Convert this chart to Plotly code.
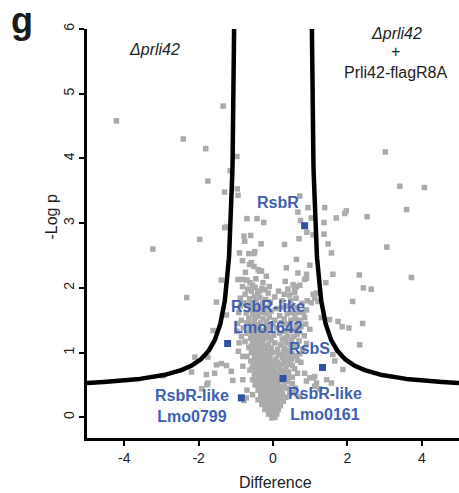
import numpy as np
import plotly.graph_objects as go

# ---- protein groups: (difference, -log p) ----
outer_left = [
    (-4.21, 4.58), (-2.41, 4.30), (-3.23, 2.60), (-2.32, 1.85), (-1.81, 4.15),
    (-1.34, 4.81), (-1.75, 3.65), (-1.30, 3.48), (-1.15, 3.81), (-0.97, 4.03),
    (-0.96, 3.53), (-0.94, 3.43), (-1.30, 2.93), (-1.26, 2.94), (-1.97, 2.75),
    (-1.39, 2.12), (-1.61, 1.34), (-1.25, 1.58), (-2.10, 0.93), (-1.75, 0.93),
    (-1.52, 0.81), (-1.39, 0.83), (-1.25, 0.80), (-2.19, 0.70), (-1.79, 0.66),
    (-1.57, 0.68), (-1.75, 0.53), (-1.78, 0.50), (-1.92, 0.44), (-2.96, 0.64),
    (-1.12, 0.71), (-1.08, 0.57), (-1.52, 1.78), (-0.94, 2.13), (-0.91, 1.15),
    (-0.81, 0.94), (-0.81, 0.79), (-0.81, 0.58),
]
outer_right = [
    (3.02, 4.10), (3.41, 3.57), (4.07, 3.55), (1.97, 3.19), (1.93, 3.15),
    (2.53, 3.10), (3.59, 3.21), (3.06, 2.63), (2.32, 2.20), (3.72, 2.16),
    (2.43, 2.00), (2.64, 1.98), (2.14, 1.79), (2.41, 1.45), (1.86, 1.40),
    (2.04, 1.38), (2.33, 1.12), (1.61, 2.21), (1.42, 2.08), (1.57, 2.54),
    (1.48, 2.68), (1.70, 3.08), (1.39, 3.24), (1.37, 3.01), (1.37, 2.83),
    (1.75, 1.48), (1.52, 1.51), (1.30, 1.54), (1.61, 0.97), (1.66, 0.87),
    (1.44, 0.58), (1.57, 0.53), (1.12, 0.63), (1.17, 0.53), (1.88, 0.74),
    (0.99, 0.61), (1.08, 0.61), (1.12, 0.48), (1.25, 0.44), (0.72, 0.32),
]
upper_mid = [
    (0.72, 3.42), (0.67, 3.17), (0.94, 3.24), (0.74, 3.04), (1.03, 3.08),
    (0.91, 2.86), (1.08, 2.82), (0.70, 2.76), (0.31, 2.67), (0.63, 2.44),
    (0.36, 2.31), (0.99, 2.35), (0.67, 2.23), (0.90, 2.21), (0.90, 2.15),
    (0.85, 2.13), (0.54, 2.05), (0.63, 2.02), (0.72, 2.04), (0.58, 1.97),
    (0.58, 1.93), (0.45, 1.89), (1.08, 1.90), (1.17, 1.92), (1.12, 1.84),
    (1.03, 1.77), (1.21, 1.79), (0.99, 1.36), (0.85, 1.54), (0.90, 1.66),
    (-0.70, 3.07), (-0.43, 3.07), (-0.25, 3.01), (-0.78, 2.80), (-0.60, 2.81),
    (-0.76, 2.72), (-0.32, 2.68), (-0.90, 2.54), (-0.65, 2.53), (-0.51, 2.53),
    (-0.49, 2.56), (-0.82, 2.42), (-0.58, 2.39), (-0.51, 2.33), (-0.40, 2.28),
    (-0.36, 2.26), (-0.63, 2.36), (-0.31, 2.26), (-0.18, 2.18), (-0.81, 2.13),
    (-0.22, 1.97), (-0.13, 1.92),
]
core = [
    (-0.62, 2.08), (-0.55, 2.04), (-0.48, 2.01), (-0.68, 1.98), (-0.58, 1.95),
    (-0.41, 1.93), (-0.30, 1.99), (-0.75, 1.90), (-0.50, 1.87), (-0.35, 1.85),
    (-0.63, 1.83), (-0.20, 1.82), (-0.45, 1.79), (-0.78, 1.77), (-0.28, 1.76),
    (0.05, 1.86), (0.15, 1.95), (0.24, 1.80), (0.33, 2.10), (0.40, 1.98),
    (-0.88, 1.72), (-0.66, 1.74), (-0.52, 1.71), (-0.38, 1.72), (-0.15, 1.70),
    (-0.60, 1.66), (-0.44, 1.64), (-0.30, 1.66), (-0.72, 1.61), (-0.55, 1.59),
    (-0.20, 1.61), (-0.05, 1.64), (0.10, 1.68), (0.28, 1.70), (0.52, 1.72),
    (0.70, 1.62), (-0.40, 1.56), (-0.65, 1.53), (-0.27, 1.52), (-0.10, 1.55),
    (0.18, 1.57), (0.38, 1.60), (0.60, 1.52), (-0.85, 1.50), (-0.50, 1.50),
    (0.05, 1.50),
    (-0.95, 1.45), (-0.70, 1.46), (-0.58, 1.44), (-0.45, 1.43), (-0.33, 1.46),
    (-0.18, 1.42), (0.00, 1.44), (0.22, 1.46), (0.45, 1.42), (0.75, 1.40),
    (-0.80, 1.38), (-0.62, 1.36), (-0.50, 1.35), (-0.38, 1.37), (-0.25, 1.34),
    (-0.12, 1.36), (0.10, 1.38), (0.32, 1.33), (0.55, 1.35), (-0.70, 1.30),
    (-0.55, 1.28), (-0.42, 1.29), (-0.30, 1.27), (-0.15, 1.29), (0.02, 1.27),
    (0.18, 1.30), (0.40, 1.25), (0.65, 1.28), (-0.85, 1.25), (-0.60, 1.22),
    (-0.47, 1.21), (-0.35, 1.20), (-0.22, 1.22), (-0.05, 1.20), (0.25, 1.21),
    (0.50, 1.18),
    (-0.75, 1.17), (-0.55, 1.15), (-0.42, 1.14), (-0.28, 1.16), (-0.12, 1.13),
    (0.05, 1.15), (0.20, 1.12), (0.35, 1.15), (0.60, 1.10), (0.80, 1.05),
    (-0.65, 1.08), (-0.50, 1.07), (-0.35, 1.08), (-0.20, 1.06), (-0.05, 1.07),
    (0.12, 1.05), (0.30, 1.06), (0.45, 1.03), (-0.58, 1.00), (-0.44, 0.99),
    (-0.30, 1.01), (-0.16, 0.98), (0.00, 1.00), (0.15, 0.97), (0.38, 0.98),
    (0.62, 0.95), (-0.70, 0.94), (-0.50, 0.92), (-0.37, 0.93), (-0.24, 0.91),
    (-0.08, 0.93), (0.08, 0.90), (0.25, 0.92), (0.50, 0.90),
    (-0.60, 0.87), (-0.45, 0.86), (-0.32, 0.87), (-0.18, 0.85), (-0.03, 0.86),
    (0.12, 0.84), (0.30, 0.86), (0.45, 0.82), (0.75, 0.85), (-0.52, 0.80),
    (-0.40, 0.79), (-0.27, 0.80), (-0.12, 0.78), (0.03, 0.79), (0.18, 0.77),
    (0.35, 0.78), (0.58, 0.75), (-0.62, 0.73), (-0.46, 0.72), (-0.33, 0.73),
    (-0.20, 0.71), (-0.06, 0.72), (0.08, 0.70), (0.22, 0.72), (0.42, 0.70),
    (-0.50, 0.66), (-0.38, 0.65), (-0.25, 0.66), (-0.12, 0.64), (0.02, 0.65),
    (0.15, 0.63), (0.32, 0.64), (0.52, 0.62), (0.85, 0.68),
    (-0.55, 0.58), (-0.42, 0.57), (-0.30, 0.58), (-0.18, 0.56), (-0.05, 0.57),
    (0.08, 0.55), (0.20, 0.57), (0.40, 0.55), (-0.48, 0.50), (-0.35, 0.49),
    (-0.22, 0.50), (-0.10, 0.48), (0.03, 0.50), (0.15, 0.48), (0.30, 0.47),
    (0.60, 0.45), (-0.70, 0.42), (-0.40, 0.42), (-0.28, 0.41), (-0.15, 0.43),
    (-0.02, 0.41), (0.10, 0.42), (0.22, 0.40), (0.45, 0.38), (-0.55, 0.35),
    (-0.33, 0.34), (-0.20, 0.35), (-0.08, 0.33), (0.05, 0.34), (0.17, 0.33),
    (0.35, 0.31), (-0.72, 0.30), (-0.78, 0.26),
    (-0.40, 0.27), (-0.26, 0.27), (-0.13, 0.26), (0.00, 0.27), (0.12, 0.26),
    (0.28, 0.25), (-0.30, 0.20), (-0.18, 0.19), (-0.05, 0.20), (0.07, 0.19),
    (0.20, 0.18), (-0.22, 0.12), (-0.10, 0.12), (0.02, 0.11), (0.14, 0.12),
    (-0.12, 0.05), (0.00, 0.04), (0.10, 0.05), (-0.03, -0.01), (0.05, 0.00),
]
core_dense = [
    (-0.82, 2.02), (-0.88, 1.84), (-0.92, 1.62), (-0.97, 1.33), (-0.93, 1.02),
    (-0.74, 2.24), (-0.70, 2.12), (-0.46, 2.14), (-0.27, 2.08), (-0.10, 2.02),
    (-0.36, 1.95), (-0.56, 1.77), (-0.07, 1.78), (-0.34, 1.62), (-0.47, 1.55),
    (-0.17, 1.48), (-0.40, 1.40), (-0.08, 1.40), (-0.28, 1.31), (-0.50, 1.24),
    (-0.10, 1.24), (-0.37, 1.12), (-0.23, 1.10), (-0.58, 1.10), (-0.40, 1.03),
    (-0.12, 1.02), (-0.27, 0.95), (-0.44, 0.90), (-0.14, 0.90), (-0.38, 0.83),
    (-0.22, 0.82), (-0.08, 0.81), (-0.56, 0.77), (-0.30, 0.76), (-0.16, 0.75),
    (0.00, 0.75), (-0.42, 0.69), (-0.28, 0.69), (-0.16, 0.68), (-0.02, 0.68),
    (0.12, 0.67), (-0.35, 0.62), (-0.20, 0.61), (-0.08, 0.61), (0.06, 0.60),
    (-0.47, 0.54), (-0.26, 0.53), (-0.13, 0.52), (0.00, 0.53), (0.12, 0.52),
    (-0.35, 0.45), (-0.20, 0.46), (-0.07, 0.45), (0.06, 0.46), (0.19, 0.44),
    (-0.27, 0.38), (-0.13, 0.39), (0.00, 0.37), (0.12, 0.38), (0.26, 0.36),
    (-0.33, 0.30), (-0.19, 0.31), (-0.06, 0.30), (0.06, 0.29), (0.20, 0.29),
    (-0.25, 0.23), (-0.11, 0.23), (0.01, 0.23), (0.13, 0.22), (-0.16, 0.16),
    (-0.04, 0.16), (0.08, 0.15), (-0.07, 0.08), (0.05, 0.09),
    (0.30, 1.90), (0.48, 1.80), (0.62, 1.84), (0.78, 1.76), (0.92, 1.80),
    (0.38, 1.72), (0.66, 1.70), (0.82, 1.62), (0.46, 1.62), (0.58, 1.60),
    (0.30, 1.52), (0.48, 1.50), (0.72, 1.50), (0.88, 1.44), (0.34, 1.44),
    (0.62, 1.42), (0.42, 1.34), (0.70, 1.32), (0.84, 1.26), (0.56, 1.25),
    (0.35, 1.23), (0.70, 1.18), (0.46, 1.12), (0.90, 1.14), (0.28, 1.00),
    (0.52, 0.98), (0.72, 0.98), (0.40, 0.90), (0.66, 0.88), (0.22, 0.82),
    (0.52, 0.80), (0.28, 0.70), (0.66, 0.68), (0.40, 0.62), (0.30, 0.54),
    (0.52, 0.52), (0.38, 0.45), (0.90, 0.56), (0.56, 0.38),
]

# ---- highlighted proteins ----
hit_names = ["RsbR", "RsbR-like<br>Lmo1642", "RsbS", "RsbR-like<br>Lmo0161", "RsbR-like<br>Lmo0799"]
hit_diff = [0.85, -1.22, 1.33, 0.27, -0.85]
hit_logp = [2.96, 1.14, 0.77, 0.60, 0.30]

# ---- significance threshold curve: -log p = a / (|diff| - x0) + b ----
curve_a, curve_x0, curve_b = 0.482, 0.95, 0.41

x_ticks = [-4, -2, 0, 2, 4]
x_tick_text = ["-4", "-2", "0", "2", "4"]
y_ticks = [0, 1, 2, 3, 4, 5, 6]

GREY = "#ABABAB"
BLUE_MARK = "#3050A4"
BLUE_TEXT = "#3F5FB2"
FONT = "Liberation Sans, Arial, sans-serif"

grey_pts = outer_left + outer_right + upper_mid + core + core_dense
gx = [p[0] for p in grey_pts]
gy = [p[1] for p in grey_pts]

fig = go.Figure()
fig.add_trace(go.Scatter(
    x=gx, y=gy, mode="markers",
    marker=dict(symbol="square", size=5.5, color=GREY, line=dict(width=0)),
    hoverinfo="skip",
))

# threshold branches
span = np.linspace(curve_x0 + 0.07, 5.0, 600)
thr = curve_a / (span - curve_x0) + curve_b
for sign in (-1, 1):
    fig.add_trace(go.Scatter(
        x=sign * span, y=thr, mode="lines",
        line=dict(color="black", width=4.5),
        hoverinfo="skip",
    ))

fig.add_trace(go.Scatter(
    x=hit_diff, y=hit_logp, mode="markers",
    marker=dict(symbol="square", size=7, color=BLUE_MARK, line=dict(width=0)),
    hoverinfo="skip",
))

L, R, T, B = 87, 0, 29, 55
W, H = 459, 493
PW, PH = W - L - R, H - T - B


def px_x(p):
    return (p - L) / PW


def px_y(p):
    return (H - B - p) / PH


annotations = []
# hit labels: (text, centre px x, centre px y)
label_pos = [(277.5, 203), (268, 317), (309, 348.5), (325, 403.5), (191.5, 405.5)]
for name, (cx, cy) in zip(hit_names, label_pos):
    annotations.append(dict(
        text=f"<b>{name}</b>", x=px_x(cx), y=px_y(cy), xref="paper", yref="paper",
        xanchor="center", yanchor="middle", showarrow=False,
        font=dict(family=FONT, size=16, color=BLUE_TEXT),
    ))

annotations += [
    dict(text="<b>g</b>", x=px_x(22), y=px_y(20), xref="paper", yref="paper",
         xanchor="center", yanchor="middle", showarrow=False,
         font=dict(family=FONT, size=36, color="#1a1a1a")),
    dict(text="<i>\u0394prli42</i>", x=px_x(154), y=px_y(50), xref="paper", yref="paper",
         xanchor="center", yanchor="middle", showarrow=False,
         font=dict(family=FONT, size=16, color="#222")),
    dict(text="<i>\u0394prli42</i>", x=px_x(396), y=px_y(33), xref="paper", yref="paper",
         xanchor="center", yanchor="middle", showarrow=False,
         font=dict(family=FONT, size=16, color="#222")),
    dict(text="+", x=px_x(395), y=px_y(52), xref="paper", yref="paper",
         xanchor="center", yanchor="middle", showarrow=False,
         font=dict(family=FONT, size=16, color="#222")),
    dict(text="Prli42-flagR8A", x=px_x(395), y=px_y(72), xref="paper", yref="paper",
         xanchor="center", yanchor="middle", showarrow=False,
         font=dict(family=FONT, size=16, color="#222")),
    dict(text="Difference", x=px_x(275), y=px_y(482), xref="paper", yref="paper",
         xanchor="center", yanchor="middle", showarrow=False,
         font=dict(family=FONT, size=16, color="#222")),
    dict(text="-Log p", x=px_x(50.5), y=px_y(217), xref="paper", yref="paper",
         xanchor="center", yanchor="middle", showarrow=False, textangle=-90,
         font=dict(family=FONT, size=16, color="#222")),
]

fig.update_layout(
    width=W, height=H,
    margin=dict(l=L, r=R, t=T, b=B, pad=0),
    paper_bgcolor="white", plot_bgcolor="white",
    showlegend=False,
    annotations=annotations,
    xaxis=dict(
        range=[-5, 5], tickvals=x_ticks, ticktext=x_tick_text,
        showline=True, linecolor="black", linewidth=2.5,
        ticks="outside", ticklen=5, tickwidth=2, tickcolor="black",
        showgrid=False, zeroline=False,
        tickfont=dict(family=FONT, size=14, color="#222"),
    ),
    yaxis=dict(
        range=[-0.32, 6], tickvals=y_ticks, tickangle=-90,
        showline=True, linecolor="black", linewidth=2.5,
        ticks="outside", ticklen=5, tickwidth=2, tickcolor="black",
        showgrid=False, zeroline=False,
        tickfont=dict(family=FONT, size=14, color="#222"),
    ),
)

fig.write_html("out.html")
